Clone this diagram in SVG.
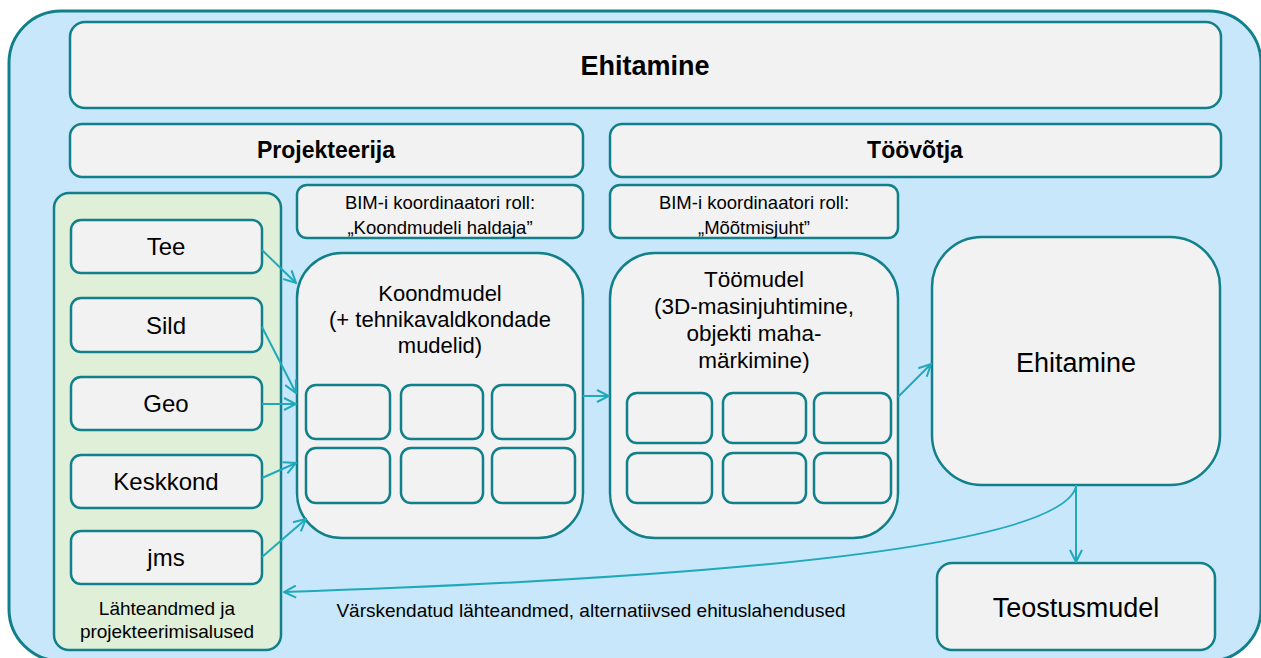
<svg xmlns="http://www.w3.org/2000/svg" width="1261" height="658" viewBox="0 0 1261 658">
<defs>
<marker id="arr" viewBox="0 0 14 14" refX="13" refY="7" markerWidth="14" markerHeight="14" markerUnits="userSpaceOnUse" orient="auto">
<path d="M1,1 L13,7 L1,13" fill="none" stroke="#1fa9bb" stroke-width="2"/>
</marker>
<style>
.box{fill:#f2f2f2;stroke:#12808a;stroke-width:2.5}
.t{font-family:"Liberation Sans",Arial,sans-serif;fill:#000;text-anchor:middle}
.b{font-weight:bold}
.c{fill:none;stroke:#1fa9bb;stroke-width:2;marker-end:url(#arr)}
</style>
</defs>
<rect x="9" y="11" width="1252" height="650" rx="52" fill="#c8e7fb" stroke="#12808a" stroke-width="3"/>
<g id="top"><rect class="box" x="70" y="22" width="1151" height="86" rx="15"/><text class="t b" x="645" y="75" font-size="27">Ehitamine</text></g>
<g id="projekteerija"><rect class="box" x="70" y="124" width="513" height="53" rx="12"/><text class="t b" x="326" y="158" font-size="23">Projekteerija</text></g>
<g id="toovotja"><rect class="box" x="610" y="124" width="611" height="53" rx="12"/><text class="t b" x="915" y="158" font-size="23">Töövõtja</text></g>
<g id="bim1"><rect class="box" x="297" y="185" width="286" height="53" rx="10"/><text class="t" x="440" y="209" font-size="18.5">BIM-i koordinaatori roll:</text><text class="t" x="440" y="234" font-size="18.5">„Koondmudeli haldaja”</text></g>
<g id="bim2"><rect class="box" x="610" y="185" width="288" height="53" rx="10"/><text class="t" x="754" y="209" font-size="18.5">BIM-i koordinaatori roll:</text><text class="t" x="754" y="234" font-size="18.5">„Mõõtmisjuht”</text></g>
<g id="lahteandmed"><rect x="54" y="193" width="227" height="457" rx="15" fill="#dfefd8" stroke="#12808a" stroke-width="2.5"/><text class="t" x="167" y="615" font-size="19">Lähteandmed ja</text><text class="t" x="167" y="638" font-size="19">projekteerimisalused</text></g>
<g id="tee"><rect class="box" x="71" y="220" width="191" height="53" rx="10"/><text class="t" x="166" y="255" font-size="24">Tee</text></g>
<g id="sild"><rect class="box" x="71" y="298" width="191" height="54" rx="10"/><text class="t" x="166" y="334" font-size="24">Sild</text></g>
<g id="geo"><rect class="box" x="71" y="377" width="191" height="53" rx="10"/><text class="t" x="166" y="412" font-size="24">Geo</text></g>
<g id="keskkond"><rect class="box" x="71" y="455" width="191" height="53" rx="10"/><text class="t" x="166" y="490" font-size="24">Keskkond</text></g>
<g id="jms"><rect class="box" x="71" y="531" width="191" height="53" rx="10"/><text class="t" x="166" y="566" font-size="24">jms</text></g>
<g id="koondmudel"><rect class="box" x="297" y="253" width="286" height="285" rx="45"/>
<text class="t" x="440" y="301" font-size="22">Koondmudel</text><text class="t" x="440" y="327" font-size="22">(+ tehnikavaldkondade</text><text class="t" x="440" y="353" font-size="22">mudelid)</text>
<rect class="box" x="306" y="385" width="84" height="54" rx="10"/><rect class="box" x="401" y="385" width="82" height="54" rx="10"/><rect class="box" x="492" y="385" width="83" height="54" rx="10"/>
<rect class="box" x="306" y="448" width="84" height="55" rx="10"/><rect class="box" x="401" y="448" width="82" height="55" rx="10"/><rect class="box" x="492" y="448" width="83" height="55" rx="10"/></g>
<g id="toomudel"><rect class="box" x="610" y="253" width="288" height="285" rx="45"/>
<text class="t" x="754" y="287" font-size="22.5">Töömudel</text><text class="t" x="754" y="314" font-size="22.5">(3D-masinjuhtimine,</text><text class="t" x="754" y="341" font-size="22.5">objekti maha-</text><text class="t" x="754" y="368" font-size="22.5">märkimine)</text>
<rect class="box" x="627" y="393" width="85" height="50" rx="10"/><rect class="box" x="723" y="393" width="83" height="50" rx="10"/><rect class="box" x="814" y="393" width="77" height="50" rx="10"/>
<rect class="box" x="627" y="453" width="85" height="50" rx="10"/><rect class="box" x="723" y="453" width="83" height="50" rx="10"/><rect class="box" x="814" y="453" width="77" height="50" rx="10"/></g>
<g id="ehitamine"><rect class="box" x="932" y="237" width="288" height="248" rx="50"/><text class="t" x="1076" y="372" font-size="27">Ehitamine</text></g>
<g id="teostusmudel"><rect class="box" x="937" y="563" width="278" height="87" rx="15"/><text class="t" x="1076" y="617" font-size="27">Teostusmudel</text></g>
<g id="connectors">
<path class="c" d="M262,250 L296,283"/>
<path class="c" d="M262,327 L296,393"/>
<path class="c" d="M262,404 L296,404"/>
<path class="c" d="M262,478 L296,463"/>
<path class="c" d="M262,557 L306,519"/>
<path class="c" d="M583,396 L609,396"/>
<path class="c" d="M898,397 L931,364"/>
<path class="c" d="M1076,485 L1076,562"/>
<path class="c" d="M1076,487 C1060,540 800,575 284,592"/>
<text class="t" x="591" y="617" font-size="19">Värskendatud lähteandmed, alternatiivsed ehituslahendused</text>
</g>
</svg>
